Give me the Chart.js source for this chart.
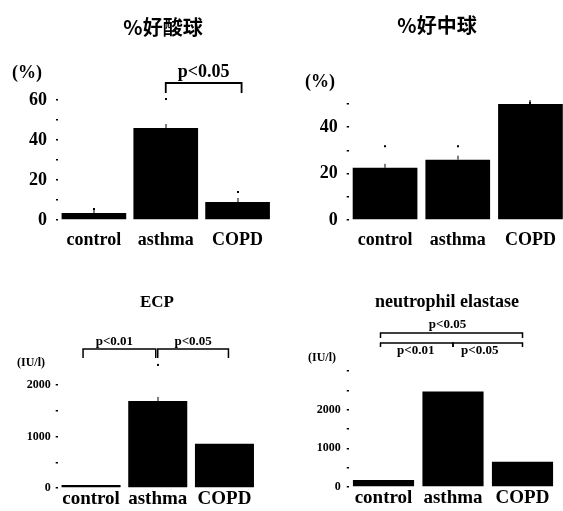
<!DOCTYPE html>
<html>
<head>
<meta charset="utf-8">
<script src="https://cdn.jsdelivr.net/npm/chart.js@4/dist/chart.umd.min.js"></script>
<style>
  html, body { margin: 0; padding: 0; background: #fff; width: 563px; height: 511px; overflow: hidden; position: relative; }
  canvas { position: absolute; }
</style>
</head>
<body>
<canvas id="eos" width="290" height="260" style="left:0;top:0;width:290px;height:260px"></canvas>
<canvas id="neu" width="290" height="260" style="left:290px;top:0;width:290px;height:260px"></canvas>
<canvas id="ecp" width="290" height="251" style="left:0;top:260px;width:290px;height:251px"></canvas>
<canvas id="ela" width="290" height="251" style="left:290px;top:260px;width:290px;height:251px"></canvas>
<script>
// Groups compared in every panel
const groups = ['control', 'asthma', 'COPD'];

// % eosinophils and % neutrophils (mean, upper error tip)
const eosPct = [3.5, 46, 9];
const eosErrTop = [5.5, 60.5, 14];
const neuPct = [22.5, 26, 50];
const neuErrTop = [31.8, 31.8, 50.5];

// ECP and neutrophil elastase (IU/l)
const ecpIU = [60, 1690, 860];
const ecpErrTop = [null, 2390, null];
const elastaseIU = [180, 2470, 650];
const elastaseErrTop = [null, null, null];

// Labelled y ticks
const pctTickLabels = [0, 20, 40, 60];
const iuTickLabels = [0, 1000, 2000];

// Significance comparisons: [from group, to group, label]
const eosTests = [[1, 2, 'p<0.05']];
const neuTests = [];
const ecpTests = [[0, 1, 'p<0.01'], [1, 2, 'p<0.05']];
const elastaseTests = [[0, 2, 'p<0.05'], [0, 1, 'p<0.01'], [1, 2, 'p<0.05']];

const SERIF = '"Liberation Serif", "Times New Roman", serif';
const CJK = '"Noto Sans CJK JP", "Noto Sans CJK SC", sans-serif';

function annotations(cfg) {
  return {
    id: 'annot',
    afterDraw(chart) {
      const ctx = chart.ctx;
      const xs = chart.scales.x, ys = chart.scales.y;
      ctx.save();
      ctx.fillStyle = '#000';
      ctx.strokeStyle = '#000';
      // title
      ctx.font = cfg.title.font;
      ctx.textAlign = 'center';
      ctx.textBaseline = 'middle';
      ctx.fillText(cfg.title.text, cfg.title.x, cfg.title.y);
      // unit
      ctx.font = cfg.unit.font;
      ctx.textAlign = 'left';
      ctx.fillText(cfg.unit.text, cfg.unit.x, cfg.unit.y);
      // error bar tips
      cfg.errs.forEach((e, i) => {
        if (e == null) return;
        const x = xs.getPixelForValue(i);
        const yTop = ys.getPixelForValue(cfg.values[i]);
        const yE = ys.getPixelForValue(e);
        ctx.fillRect(Math.round(x) - 0.5, yTop - 4, 1, 4);
        ctx.fillRect(Math.round(x) - 1, yE - 1, 2, 2);
      });
      // brackets
      ctx.lineWidth = cfg.bracketWidth;
      ctx.font = cfg.pFont;
      ctx.textAlign = 'center';
      cfg.tests.forEach((t, k) => {
        const g = cfg.brackets[k];
        const x1 = xs.getPixelForValue(t[0]) + g.dl;
        const x2 = xs.getPixelForValue(t[1]) + g.dr;
        ctx.beginPath();
        ctx.moveTo(x1, g.y + g.leg);
        ctx.lineTo(x1, g.y);
        ctx.lineTo(x2, g.y);
        ctx.lineTo(x2, g.y + g.leg);
        ctx.stroke();
        ctx.fillText(t[2], (x1 + x2) / 2 + (g.tx || 0), g.ty);
      });
      ctx.restore();
    }
  };
}

function makePanel(id, cfg) {
  new Chart(document.getElementById(id), {
    type: 'bar',
    data: {
      labels: groups,
      datasets: [{
        data: cfg.values,
        backgroundColor: '#000',
        borderWidth: 0,
        barPercentage: cfg.barPct,
        categoryPercentage: 1
      }]
    },
    options: {
      responsive: false,
      animation: false,
      layout: { padding: { left: 0, top: cfg.top, right: cfg.right, bottom: 0 } },
      plugins: { legend: { display: false }, tooltip: { enabled: false } },
      scales: {
        x: {
          type: 'category',
          offset: true,
          grid: { display: false, drawTicks: false },
          border: { display: false },
          ticks: { color: '#000', font: cfg.xFont, padding: cfg.xPad, maxRotation: 0, autoSkip: false },
          afterFit: s => { s.height = cfg.xHeight; }
        },
        y: {
          min: 0,
          max: cfg.max,
          grid: { display: true, drawOnChartArea: false, drawTicks: true, tickLength: 2, color: '#000', lineWidth: 1.5 },
          border: { display: false },
          ticks: {
            stepSize: cfg.step,
            autoSkip: false,
            color: '#000',
            font: cfg.yFont,
            padding: cfg.yPad,
            callback: v => cfg.shown.includes(v) ? String(v) : ''
          },
          afterFit: s => { s.width = cfg.axisWidth; }
        }
      }
    },
    plugins: [annotations(cfg)]
  });
}

const bigTick = { family: SERIF, size: 18, weight: 'bold' };
const smallTick = { family: SERIF, size: 12, weight: 'bold' };

makePanel('eos', {
  values: eosPct, errs: eosErrTop, tests: eosTests,
  max: 60, step: 10, shown: pctTickLabels,
  axisWidth: 58, top: 100, right: 16.5, xHeight: 40, barPct: 0.9,
  xFont: { family: SERIF, size: 18, weight: 'bold' }, xPad: 10,
  yFont: bigTick, yPad: 9,
  title: { text: '%好酸球', x: 163, y: 27, font: 'bold 20px ' + CJK },
  unit: { text: '(%)', x: 12, y: 73, font: 'bold 18px ' + SERIF },
  pFont: 'bold 18px ' + SERIF, bracketWidth: 1.8,
  brackets: [{ dl: 0, dr: 4, y: 83, leg: 10, ty: 72 }]
});

makePanel('neu', {
  values: neuPct, errs: neuErrTop, tests: neuTests,
  max: 50, step: 10, shown: pctTickLabels,
  axisWidth: 58.7, top: 104, right: 13.2, xHeight: 40, barPct: 0.89,
  xFont: { family: SERIF, size: 18, weight: 'bold' }, xPad: 10,
  yFont: bigTick, yPad: 9,
  title: { text: '%好中球', x: 147, y: 25, font: 'bold 20px ' + CJK },
  unit: { text: '(%)', x: 15, y: 82, font: 'bold 18px ' + SERIF },
  pFont: 'bold 18px ' + SERIF, bracketWidth: 1.8,
  brackets: []
});

makePanel('ecp', {
  values: ecpIU, errs: ecpErrTop, tests: ecpTests,
  max: 2000, step: 500, shown: iuTickLabels,
  axisWidth: 57.7, top: 125, right: 32.2, xHeight: 23, barPct: 0.885,
  xFont: { family: SERIF, size: 19, weight: 'bold' }, xPad: 0,
  yFont: smallTick, yPad: 5,
  title: { text: 'ECP', x: 157, y: 43, font: 'bold 17px ' + SERIF },
  unit: { text: '(IU/l)', x: 17, y: 103, font: 'bold 12px ' + SERIF },
  pFont: 'bold 13px ' + SERIF, bracketWidth: 1.5,
  brackets: [
    { dl: -8, dr: -2, y: 89, leg: 9, ty: 82, tx: -5 },
    { dl: 0, dr: 4, y: 89, leg: 9, ty: 82 }
  ]
});

makePanel('ela', {
  values: elastaseIU, errs: elastaseErrTop, tests: elastaseTests,
  max: 3000, step: 500, shown: iuTickLabels,
  axisWidth: 58.75, top: 111, right: 22.75, xHeight: 24, barPct: 0.88,
  xFont: { family: SERIF, size: 19, weight: 'bold' }, xPad: 0,
  yFont: smallTick, yPad: 6,
  title: { text: 'neutrophil elastase', x: 157, y: 42, font: 'bold 18px ' + SERIF },
  unit: { text: '(IU/l)', x: 18, y: 98, font: 'bold 12px ' + SERIF },
  pFont: 'bold 13px ' + SERIF, bracketWidth: 1.5,
  brackets: [
    { dl: -3, dr: 0, y: 73, leg: 5, ty: 65, tx: -4 },
    { dl: -3, dr: 0, y: 83, leg: 4, ty: 91, tx: -1 },
    { dl: 0, dr: 0, y: 83, leg: 4, ty: 91, tx: -8 }
  ]
});
</script>
</body>
</html>
